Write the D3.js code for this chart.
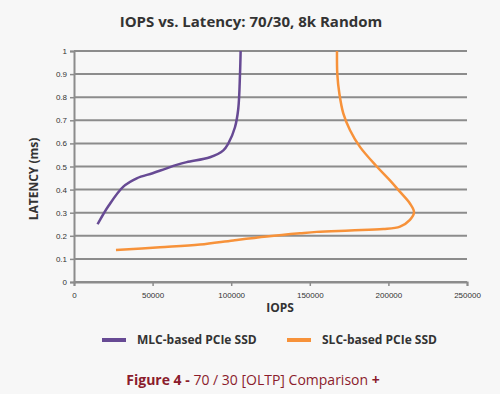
<!DOCTYPE html>
<html>
<head>
<meta charset="utf-8">
<script src="https://cdn.jsdelivr.net/npm/d3@7"></script>
<style>
  body { margin: 0; background: #f7f7f7; }
  svg { display: block; font-family: "Open Sans", "Noto Sans", sans-serif; }
</style>
</head>
<body>
<div id="chart"></div>
<script>
// data
var mlcIops = [15000, 22000, 31400, 39900, 50000, 58000, 65300, 71700, 86500, 95000, 98200, 102400, 104500, 105600, 106000];
var mlcLatency = [0.25, 0.33, 0.413, 0.449, 0.471, 0.49, 0.507, 0.519, 0.54, 0.57, 0.6, 0.67, 0.75, 0.9, 1.0];

var slcIops = [26700, 54700, 80200, 101300, 122600, 143800, 154400, 175600, 196800, 207400, 213700, 216300, 213700, 207400, 201000, 192600, 181900, 175600, 171300, 168800, 167500, 167300];
var slcLatency = [0.138, 0.15, 0.162, 0.18, 0.197, 0.211, 0.217, 0.223, 0.229, 0.24, 0.269, 0.302, 0.34, 0.39, 0.44, 0.5, 0.585, 0.657, 0.73, 0.816, 0.9, 1.0];

var seriesNames = ["MLC-based PCIe SSD", "SLC-based PCIe SSD"];
var seriesColors = ["#674a94", "#f7923a"];
var xTicks = [0, 50000, 100000, 150000, 200000, 250000];
var yTicks = [0, 0.1, 0.2, 0.3, 0.4, 0.5, 0.6, 0.7, 0.8, 0.9, 1];

var svgWidth = 500;
var svgHeight = 394;

var margin = { top: 51, right: 33, bottom: 112, left: 74 };
var width = svgWidth - margin.left - margin.right;
var height = svgHeight - margin.top - margin.bottom;

var svg = d3.select("#chart")
    .append("svg")
    .attr("width", svgWidth)
    .attr("height", svgHeight);

svg.append("rect")
    .attr("width", svgWidth)
    .attr("height", svgHeight)
    .attr("fill", "#f7f7f7");

// title
svg.append("text")
    .attr("x", 251)
    .attr("y", 27)
    .attr("text-anchor", "middle")
    .style("font-size", "15px")
    .style("font-weight", "bold")
    .style("fill", "#333")
    .text("IOPS vs. Latency: 70/30, 8k Random");

var chart = svg.append("g")
    .attr("transform", `translate(${margin.left}, ${margin.top})`);

var xScale = d3.scaleLinear().domain([0, 250000]).range([0, width]);
var yScale = d3.scaleLinear().domain([0, 1]).range([height, 0]);

// gridlines
chart.append("g")
    .selectAll("line")
    .data(yTicks)
    .enter()
    .append("line")
    .attr("x1", 0)
    .attr("x2", width)
    .attr("y1", d => yScale(d))
    .attr("y2", d => yScale(d))
    .attr("stroke", "#8c8c8c")
    .attr("stroke-width", 2);

// axes
var leftAxis = d3.axisLeft(yScale).tickValues(yTicks).tickSize(4).tickFormat(d3.format("~g"));
var bottomAxis = d3.axisBottom(xScale).tickValues(xTicks).tickSize(4).tickFormat(d3.format("d"));

var yAxisG = chart.append("g").call(leftAxis);
var xAxisG = chart.append("g").attr("transform", `translate(0, ${height})`).call(bottomAxis);

[yAxisG, xAxisG].forEach(function (g) {
    g.select(".domain").attr("stroke", "#8c8c8c").attr("stroke-width", 2);
    g.selectAll(".tick line").attr("stroke", "#8c8c8c").attr("stroke-width", 1.5);
    g.selectAll("text")
        .style("font-size", "8px")
        .style("font-family", "'Liberation Sans', sans-serif")
        .style("fill", "#333");
});
xAxisG.selectAll("text").attr("y", 10);
yAxisG.selectAll("text").attr("x", -7);

// lines
var mlcData = mlcIops.map((v, i) => ({ x: v, y: mlcLatency[i] }));
var slcData = slcIops.map((v, i) => ({ x: v, y: slcLatency[i] }));

var line = d3.line()
    .x(d => xScale(d.x))
    .y(d => yScale(d.y))
    .curve(d3.curveCatmullRom.alpha(0.5));

[mlcData, slcData].forEach(function (data, i) {
    chart.append("path")
        .datum(data)
        .attr("d", line)
        .attr("fill", "none")
        .attr("stroke", seriesColors[i])
        .attr("stroke-width", 2.5);
});

// axis labels
svg.append("text")
    .attr("x", 280)
    .attr("y", 312)
    .attr("text-anchor", "middle")
    .style("font-size", "12px")
    .style("font-weight", "bold")
    .style("fill", "#333")
    .text("IOPS");

svg.append("text")
    .attr("transform", "translate(38, 179) rotate(-90)")
    .attr("text-anchor", "middle")
    .style("font-size", "12px")
    .style("font-weight", "bold")
    .style("fill", "#333")
    .text("LATENCY (ms)");

// legend
var legendX = [102, 287];
seriesNames.forEach(function (name, i) {
    svg.append("line")
        .attr("x1", legendX[i])
        .attr("x2", legendX[i] + 24)
        .attr("y1", 340)
        .attr("y2", 340)
        .attr("stroke", seriesColors[i])
        .attr("stroke-width", 4);
    svg.append("text")
        .attr("x", legendX[i] + 35)
        .attr("y", 344)
        .style("font-size", "12px")
        .style("font-weight", "bold")
        .style("fill", "#333")
        .text(name);
});

// caption
var caption = svg.append("text")
    .attr("x", 253)
    .attr("y", 385)
    .attr("text-anchor", "middle")
    .style("font-size", "14px")
    .style("fill", "#8b1c2c");
caption.append("tspan").style("font-weight", "bold").text("Figure 4 - ");
caption.append("tspan").text("70 / 30 [OLTP] Comparison ");
caption.append("tspan").style("font-weight", "bold").text("+");
</script>
</body>
</html>
